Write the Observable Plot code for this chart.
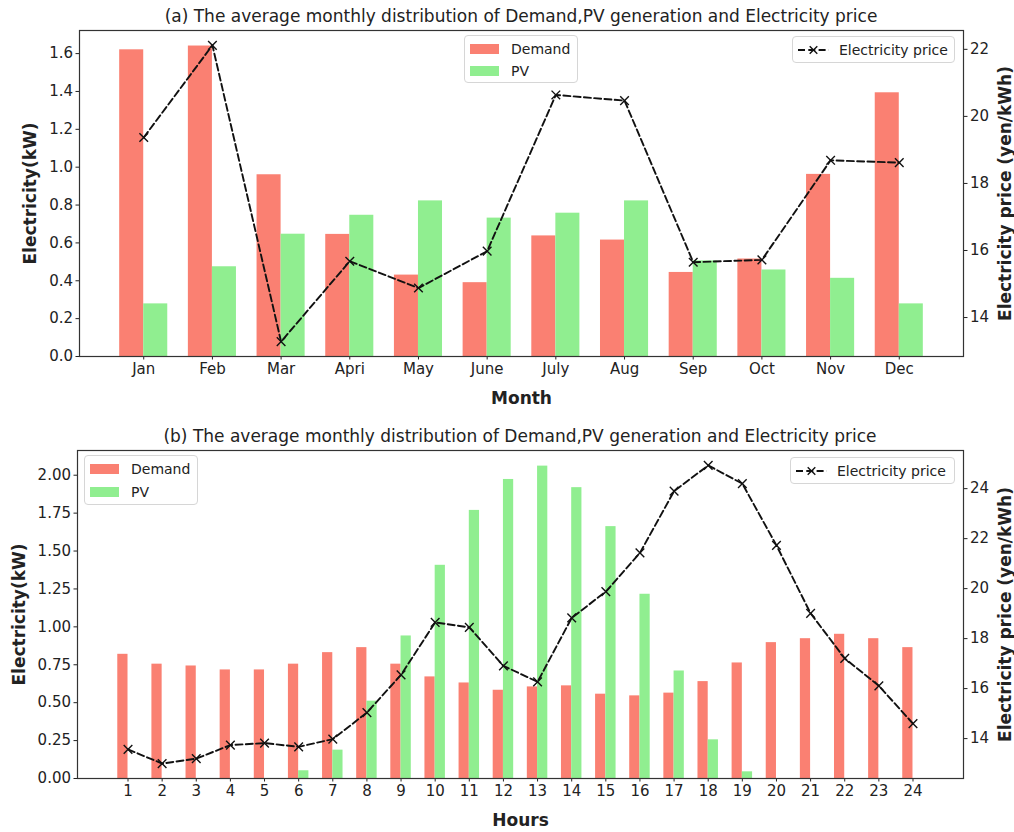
<!DOCTYPE html>
<html>
<head>
<meta charset="utf-8">
<script src="https://cdn.jsdelivr.net/npm/d3@7"></script>
<script src="https://cdn.jsdelivr.net/npm/@observablehq/plot@0.6"></script>
<style>
  html, body { margin: 0; padding: 0; background: #fff; overflow: hidden; }
  body { font-family: "DejaVu Sans", sans-serif; }
  #chart { position: relative; width: 1014px; height: 832px; background: #fff; }
  .title { position: absolute; font-size: 17px; line-height: 1; color: #222; white-space: nowrap; transform: translate(-50%, -50%); }
  .legend { position: absolute; box-sizing: border-box; border: 1px solid #d6d6d6; border-radius: 4px; background: rgba(255,255,255,0.85); font-size: 14px; color: #222; }
  .legend .item { position: absolute; line-height: 1; white-space: nowrap; transform: translateY(-50%); }
  .legend svg { position: absolute; overflow: visible; }
</style>
</head>
<body>
<div id="chart"></div>
<script>
// Monthly averages
const months = ["Jan", "Feb", "Mar", "Apri", "May", "June", "July", "Aug", "Sep", "Oct", "Nov", "Dec"];
const monthDemand = [1.62, 1.64, 0.96, 0.645, 0.43, 0.39, 0.637, 0.615, 0.444, 0.515, 0.962, 1.393];
const monthPV = [0.278, 0.474, 0.646, 0.746, 0.822, 0.731, 0.757, 0.822, 0.505, 0.457, 0.413, 0.278];
const monthPrice = [19.37, 22.12, 13.28, 15.68, 14.88, 15.98, 20.64, 20.47, 15.65, 15.72, 18.69, 18.62];

// Hourly averages
const hours = [1, 2, 3, 4, 5, 6, 7, 8, 9, 10, 11, 12, 13, 14, 15, 16, 17, 18, 19, 20, 21, 22, 23, 24];
const hourDemand = [0.819, 0.754, 0.742, 0.716, 0.716, 0.754, 0.830, 0.863, 0.754, 0.670, 0.630, 0.582,
                    0.604, 0.611, 0.556, 0.545, 0.563, 0.639, 0.762, 0.896, 0.922, 0.951, 0.922, 0.863];
const hourPV = [0, 0, 0, 0, 0, 0.051, 0.187, 0.51, 0.940, 1.406, 1.768, 1.972,
                2.060, 1.918, 1.661, 1.215, 0.709, 0.255, 0.044, 0, 0, 0, 0, 0];
const hourPrice = [13.57, 13.0, 13.2, 13.74, 13.82, 13.67, 13.98, 15.04, 16.55, 18.65, 18.45, 16.91,
                   16.27, 18.83, 19.88, 21.43, 23.90, 24.93, 24.20, 21.73, 19.01, 17.21, 16.11, 14.60];

// Axis ticks
const kwTicksA = [0, 0.2, 0.4, 0.6, 0.8, 1.0, 1.2, 1.4, 1.6];
const priceTicksA = [14, 16, 18, 20, 22];
const kwTicksB = [0, 0.25, 0.5, 0.75, 1.0, 1.25, 1.5, 1.75, 2.0];
const priceTicksB = [14, 16, 18, 20, 22, 24];

// Text
const titleA = "(a) The average monthly distribution of Demand,PV generation and Electricity price";
const titleB = "(b) The average monthly distribution of Demand,PV generation and Electricity price";
const kwLabel = "Electricity(kW)";
const priceLabel = "Electricity price (yen/kWh)";
const seriesNames = ["Demand", "PV", "Electricity price"];

const DEMAND = "#fa8072";
const PV = "#90ee90";
const W = 1014;
const chart = document.getElementById("chart");

// 5% padding on both ends, like the default autoscale margins
const pad = (lo, hi) => [lo - 0.05 * (hi - lo), hi + 0.05 * (hi - lo)];

const baseStyle = {
  fontFamily: "DejaVu Sans, sans-serif",
  fontSize: "15px",
  color: "#222",
  background: "transparent",
  overflow: "visible"
};

const labelStyle = {fontWeight: "bold", fontSize: 17, textAnchor: "middle", lineAnchor: "middle"};

function drawPanel(cfg) {
  const {rows, barWidth, tickLabel, top, height, margin, kwTicks, kwFormat, priceTicks,
         xLabel, kwLabelDx, priceLabelDx, xLabelDy} = cfg;
  const xs = rows.map(r => r.x);
  const xDomain = pad(d3.min(xs) - barWidth, d3.max(xs) + barWidth);
  const kwDomain = [0, 1.05 * d3.max(rows, r => Math.max(r.demand, r.pv))];
  const priceDomain = pad(d3.min(rows, r => r.price), d3.max(rows, r => r.price));
  const common = {
    width: W,
    height,
    marginTop: margin.top,
    marginRight: margin.right,
    marginBottom: margin.bottom,
    marginLeft: margin.left
  };

  // Demand and PV bars on the left (kW) axis
  const bars = Plot.plot({
    ...common,
    style: baseStyle,
    x: {type: "linear", domain: xDomain},
    y: {domain: kwDomain},
    marks: [
      Plot.rectY(rows, {x1: r => r.x - barWidth, x2: "x", y1: 0, y2: "demand", fill: DEMAND}),
      Plot.rectY(rows, {x1: "x", x2: r => r.x + barWidth, y1: 0, y2: "pv", fill: PV}),
      Plot.axisX({ticks: xs, tickFormat: tickLabel, tickSize: 3.5, tickPadding: 3, label: null}),
      Plot.axisY({ticks: kwTicks, tickFormat: kwFormat, tickSize: 3.5, tickPadding: 3, label: null}),
      Plot.text([xLabel], {frameAnchor: "bottom", dy: xLabelDy, text: d => d, ...labelStyle}),
      Plot.text([kwLabel], {frameAnchor: "left", dx: kwLabelDx, rotate: -90, text: d => d, ...labelStyle})
    ]
  });

  // Electricity price on the right axis, sharing the same x scale
  const price = Plot.plot({
    ...common,
    style: baseStyle,
    x: {type: "linear", domain: xDomain, axis: null},
    y: {domain: priceDomain},
    marks: [
      Plot.line(rows, {x: "x", y: "price", stroke: "#111", strokeWidth: 1.9, strokeDasharray: "7,3.3"}),
      Plot.dot(rows, {x: "x", y: "price", symbol: "times", r: 4, stroke: "#111", strokeWidth: 1.4}),
      Plot.axisY({anchor: "right", ticks: priceTicks, tickSize: 3.5, tickPadding: 3, label: null}),
      Plot.frame({stroke: "#333", strokeWidth: 1.2}),
      Plot.text([priceLabel], {frameAnchor: "right", dx: priceLabelDx, rotate: -90, text: d => d, ...labelStyle})
    ]
  });

  for (const svg of [bars, price]) {
    svg.style.position = "absolute";
    svg.style.left = "0px";
    svg.style.top = top + "px";
    chart.appendChild(svg);
  }
}

function addTitle(text, cx, cy) {
  const div = document.createElement("div");
  div.className = "title";
  div.textContent = text;
  div.style.left = cx + "px";
  div.style.top = cy + "px";
  chart.appendChild(div);
}

const SVGNS = "http://www.w3.org/2000/svg";
function svgEl(tag, attrs) {
  const el = document.createElementNS(SVGNS, tag);
  for (const k in attrs) el.setAttribute(k, attrs[k]);
  return el;
}

// Legend box: items are patches (bars) or a dashed line with a cross marker
function addLegend(box, items) {
  const div = document.createElement("div");
  div.className = "legend";
  Object.assign(div.style, {left: box.x + "px", top: box.y + "px", width: box.w + "px", height: box.h + "px"});
  items.forEach(it => {
    const s = svgEl("svg", {width: 32, height: 12});
    s.style.left = "5px";
    s.style.top = (it.cy - 6) + "px";
    if (it.kind === "patch") {
      s.appendChild(svgEl("rect", {x: 0, y: 1, width: 29, height: 10, fill: it.color}));
    } else {
      s.appendChild(svgEl("line", {x1: 0, y1: 6, x2: 31, y2: 6, stroke: "#111", "stroke-width": 1.9, "stroke-dasharray": "7,3.3"}));
      s.appendChild(svgEl("path", {d: "M11.7,2.3L19.3,9.7M11.7,9.7L19.3,2.3", stroke: "#111", "stroke-width": 1.4, fill: "none"}));
    }
    div.appendChild(s);
    const t = document.createElement("div");
    t.className = "item";
    t.textContent = it.label;
    t.style.left = "46px";
    t.style.top = it.cy + "px";
    div.appendChild(t);
  });
  chart.appendChild(div);
}

const monthRows = months.map((m, i) => ({x: i, demand: monthDemand[i], pv: monthPV[i], price: monthPrice[i]}));
const hourRows = hours.map((h, i) => ({x: h, demand: hourDemand[i], pv: hourPV[i], price: hourPrice[i]}));

drawPanel({
  rows: monthRows,
  barWidth: 0.35,
  tickLabel: i => months[i],
  top: 0,
  height: 415,
  margin: {top: 30, right: 51, bottom: 59, left: 79},
  kwTicks: kwTicksA,
  kwFormat: d3.format(".1f"),
  priceTicks: priceTicksA,
  xLabel: "Month",
  xLabelDy: 42,
  kwLabelDx: -49,
  priceLabelDx: 42
});

drawPanel({
  rows: hourRows,
  barWidth: 0.3,
  tickLabel: d => String(d),
  top: 415,
  height: 417,
  margin: {top: 35, right: 51, bottom: 54, left: 77},
  kwTicks: kwTicksB,
  kwFormat: d3.format(".2f"),
  priceTicks: priceTicksB,
  xLabel: "Hours",
  xLabelDy: 42,
  kwLabelDx: -58,
  priceLabelDx: 42
});

addTitle(titleA, 521, 16);
addTitle(titleB, 520, 436);

addLegend({x: 464, y: 35, w: 114, h: 48}, [
  {kind: "patch", color: DEMAND, label: seriesNames[0], cy: 13},
  {kind: "patch", color: PV, label: seriesNames[1], cy: 34.5}
]);
addLegend({x: 792, y: 36, w: 163, h: 27}, [
  {kind: "line", label: seriesNames[2], cy: 13}
]);
addLegend({x: 84, y: 455, w: 114, h: 50}, [
  {kind: "patch", color: DEMAND, label: seriesNames[0], cy: 13},
  {kind: "patch", color: PV, label: seriesNames[1], cy: 35.5}
]);
addLegend({x: 790, y: 457, w: 165, h: 27}, [
  {kind: "line", label: seriesNames[2], cy: 13}
]);
</script>
</body>
</html>
